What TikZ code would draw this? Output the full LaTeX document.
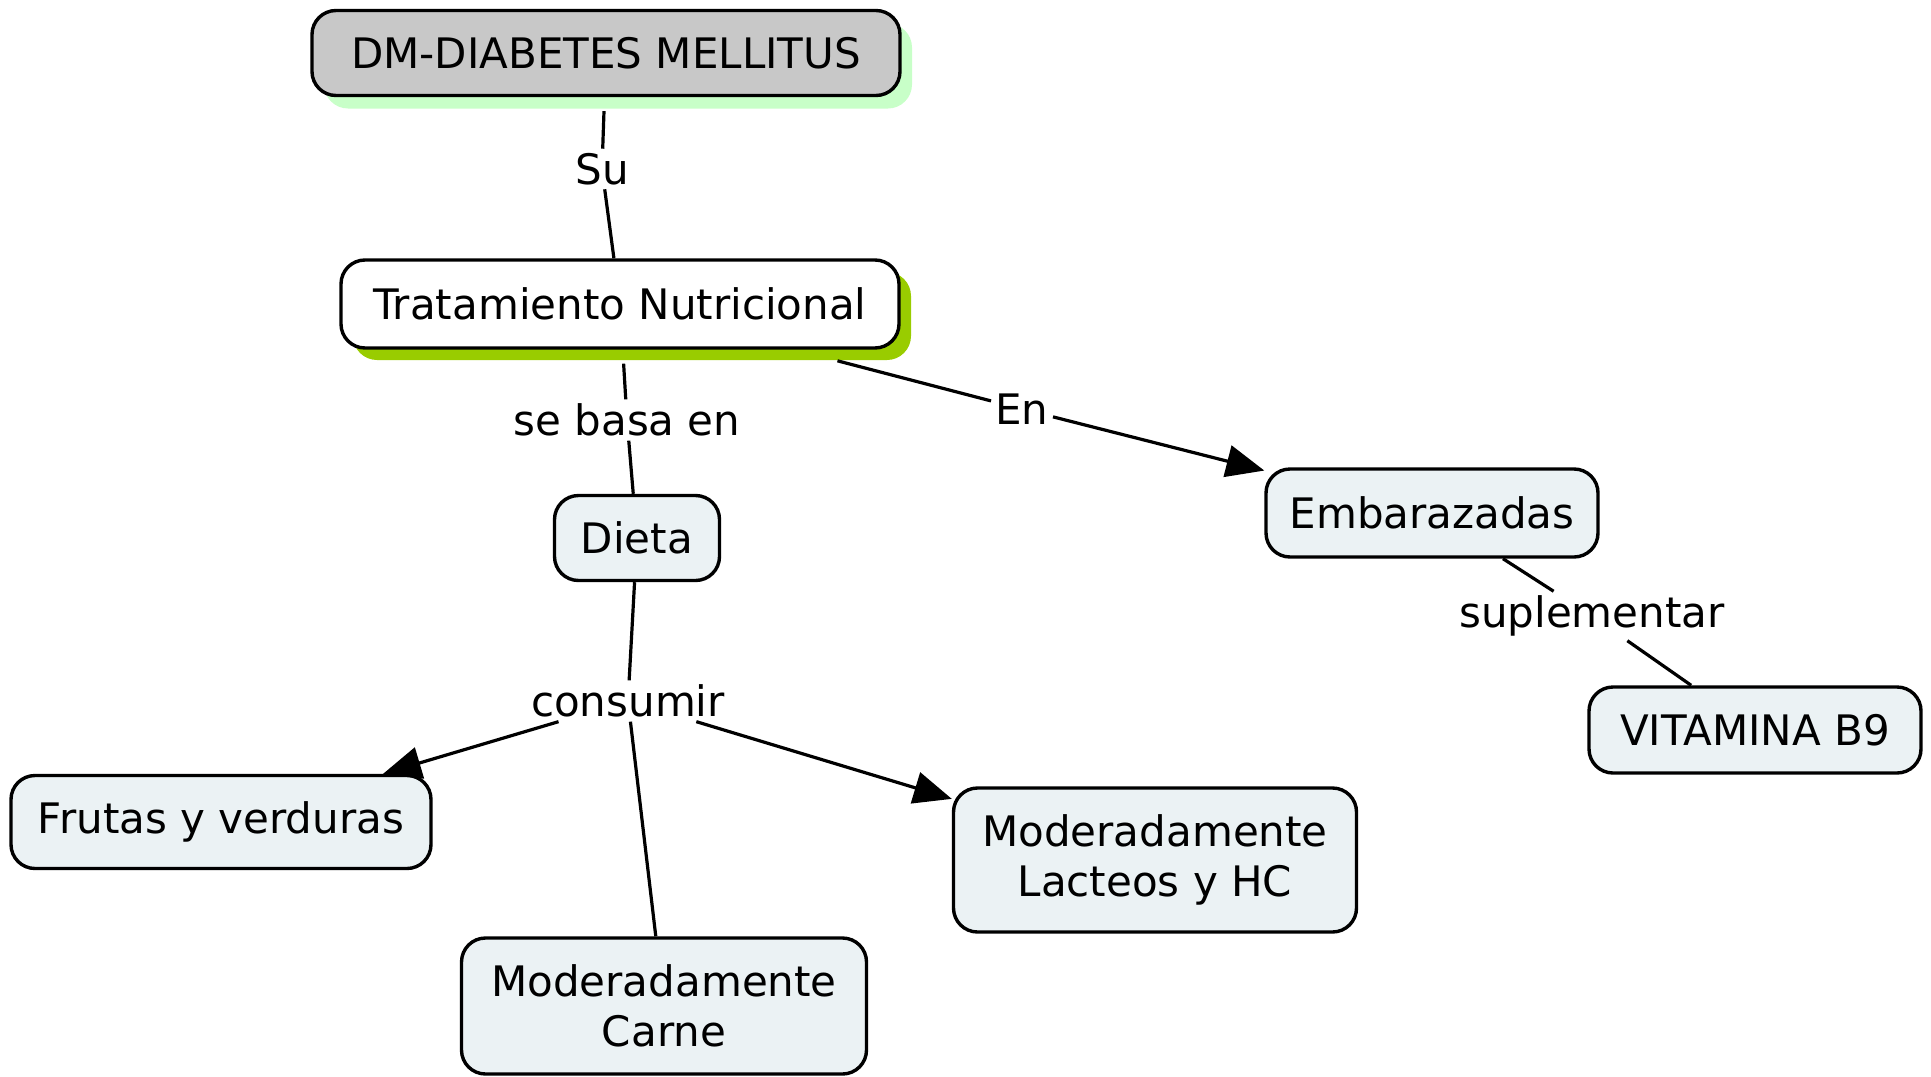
\documentclass[tikz,border=0pt]{standalone}
\usepackage{fontspec}
\setmainfont{DejaVu Sans}
\usetikzlibrary{arrows.meta,shadows,positioning}
\definecolor{boxfill}{HTML}{EBF2F4}
\definecolor{dmgray}{HTML}{C8C8C8}
\definecolor{paleshadow}{HTML}{C8FFC8}
\definecolor{limeshadow}{HTML}{99CC00}

\begin{document}
\begin{tikzpicture}[x=0.5pt,y=-0.5pt,>={Triangle[length=19pt,width=16pt]},
		font=\fontsize{21}{25}\selectfont,
		concept/.style={draw,line width=1.7pt,rounded corners=12pt,fill=boxfill,align=center,inner sep=0pt},
		link/.style={inner sep=2pt},
		line/.style={line width=1.6pt}]
			\useasboundingbox (0,0) rectangle (1931,1076);
			\node[concept,fill=dmgray,minimum width=294pt,minimum height=42.5pt,
				drop shadow={shadow xshift=6pt,shadow yshift=-6.5pt,fill=paleshadow,opacity=1}] (dm) at (606,53) {DM-DIABETES MELLITUS};
			\node[concept,fill=white,minimum width=279pt,minimum height=44pt,
				drop shadow={shadow xshift=6pt,shadow yshift=-6pt,fill=limeshadow,opacity=1}] (trat) at (620,304) {Tratamiento Nutricional};
			\node[concept,minimum width=82.5pt,minimum height=42.5pt] (dieta) at (637,538) {Dieta};
			\node[concept,minimum width=166pt,minimum height=44pt] (emb) at (1432,513) {Embarazadas};
			\node[concept,minimum width=166pt,minimum height=43pt] (vit) at (1755,730) {VITAMINA B9};
			\node[concept,minimum width=210pt,minimum height=46.5pt] (frutas) at (221,822) {Frutas y verduras};
			\node[concept,minimum width=201.5pt,minimum height=72pt] (lacteos) at (1155,860) {Moderadamente\\Lacteos y HC};
			\node[concept,minimum width=202.5pt,minimum height=68pt] (carne) at (664,1006) {Moderadamente\\Carne};
			\node[link] (su) at (602,169) {Su};
			\node[link] (basa) at (627,420) {se basa en};
			\node[link] (en) at (1022,409) {En};
			\node[link] (consumir) at (628,701) {consumir};
			\node[link] (supl) at (1592,616) {suplementar};
			\path[line]
				(dm) edge[shorten <=7pt] (su)
				(su) edge (trat)
				(trat) edge[shorten <=7pt] (basa)
				(basa) edge (dieta)
				(trat) edge[shorten <=22pt] (en)
				(en) edge[->] (emb)
				(dieta) edge (consumir)
				(consumir) edge[->] (frutas)
				(consumir) edge (carne)
				(consumir) edge[->] (lacteos)
				(emb) edge (supl)
				(supl) edge (vit);
		\end{tikzpicture}
\end{document}
